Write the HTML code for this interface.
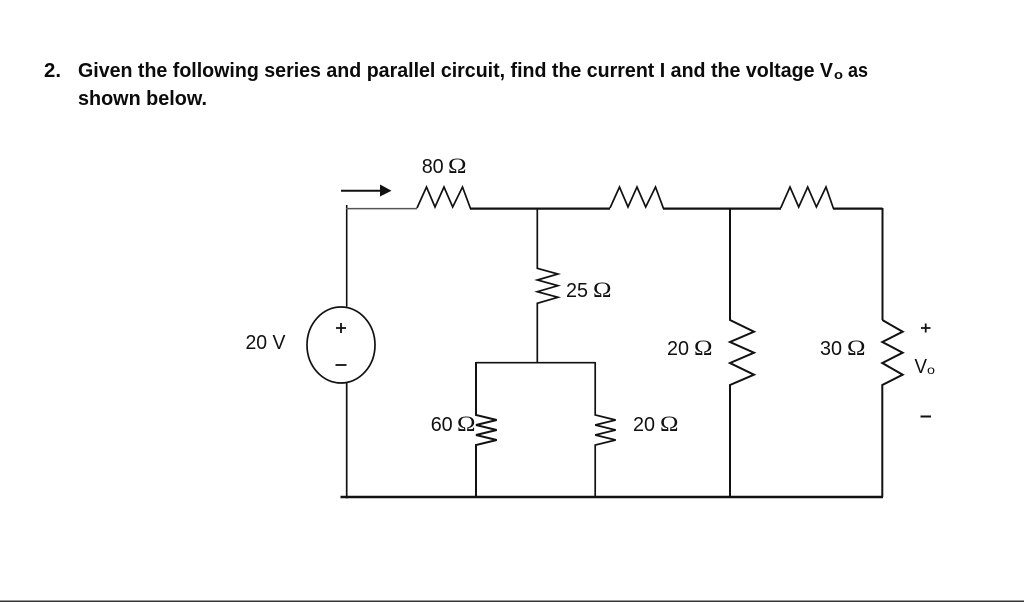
<!DOCTYPE html>
<html lang="en">
<head>
<meta charset="utf-8">
<title>Series and parallel circuit</title>
<style>
html,body{margin:0;padding:0;background:#fff;width:1024px;height:602px;overflow:hidden}
svg{display:block}
text{font-family:"Liberation Sans",sans-serif;fill:#111;font-size:20px}
.b{font-weight:bold;fill:#0b0b0b}
.s{font-family:"Liberation Serif",serif;font-size:22px}
.w{fill:none;stroke:#111;stroke-linejoin:miter}
</style>
</head>
<body>
<svg width="1024" height="602" viewBox="0 0 1024 602" xmlns="http://www.w3.org/2000/svg">
<rect width="1024" height="602" fill="#fff"/>

<!-- Question text -->
<text class="b" x="44" y="77" textLength="17" lengthAdjust="spacingAndGlyphs">2.</text>
<text class="b" x="78" y="77" textLength="755" lengthAdjust="spacingAndGlyphs">Given the following series and parallel circuit, find the current I and the voltage V</text>
<text class="b" x="834" y="79" style="font-size:13px" textLength="9" lengthAdjust="spacingAndGlyphs">o</text>
<text class="b" x="848" y="77" textLength="20" lengthAdjust="spacingAndGlyphs">as</text>
<text class="b" x="78" y="105" textLength="129" lengthAdjust="spacingAndGlyphs">shown below.</text>

<!-- Current arrow -->
<line class="w" x1="341" y1="190.7" x2="381" y2="190.7" stroke-width="2"/>
<polygon points="380,184.5 391.5,190.7 380,196.5" fill="#111"/>

<!-- Top wires -->
<path class="w" stroke-width="1.6" d="M346.7 205V306.5"/>
<path class="w" stroke-width="1.5" d="M346 208.6H417" style="stroke:#555"/>
<path class="w" stroke-width="2.2" d="M470 208.6H610M663 208.6H781M833 208.6H882.5"/>
<path class="w" stroke-width="2" d="M882.5 208V320"/>
<!-- Top resistors -->
<path class="w" stroke-width="1.7" d="M417 208L426.5 187L435 207L444 187L452.7 207L462.5 187L470.5 208.6"/>
<path class="w" stroke-width="1.7" d="M610 208L619.5 187L628 207L637 187L645.7 207L655.5 187L663.5 208.6"/>
<path class="w" stroke-width="1.7" d="M780.7 208L790 187L798.7 207L807.7 187L816.4 207L826 187L833.5 208.6"/>

<!-- 25 ohm branch -->
<path class="w" stroke-width="1.7" d="M537.3 208.6V268.3L558 274L537.3 280L558 285.7L537.3 291.7L558 297.3L537.3 303.3V363"/>

<!-- parallel bridge -->
<path class="w" stroke-width="1.7" d="M476 362.7H595.3"/>
<!-- 60 ohm -->
<path class="w" stroke-width="2" d="M476 362V415L496.7 420L476 425L496.7 430L476 435L496.7 440L476 445V497"/>
<!-- right 20 ohm -->
<path class="w" stroke-width="1.7" d="M595.2 362V415L615.7 420L595.2 425L615.7 430L595.2 435L615.7 440L595.2 445V497"/>

<!-- middle 20 ohm -->
<path class="w" stroke-width="2" d="M730 208.6V320L754 331.7L730 342L754 352.7L730 363L754 374.7L730 385V497"/>
<!-- 30 ohm -->
<path class="w" stroke-width="2" d="M882.3 320L902.7 331.7L882.3 342L902.7 352.7L882.3 363L902.7 374.7L882.3 385V497"/>

<!-- Source -->
<ellipse class="w" cx="341" cy="345" rx="34" ry="38" stroke-width="1.7"/>
<line class="w" x1="346.7" y1="383" x2="346.7" y2="498.5" stroke-width="1.7"/>
<!-- Bottom rail -->
<line class="w" x1="340.5" y1="497" x2="883" y2="497" stroke-width="2.4"/>

<!-- Source signs -->
<path class="w" stroke-width="1.8" d="M336 328H346M341 323V333"/>
<path class="w" stroke-width="1.8" d="M335.5 365H346.5"/>
<text x="245.5" y="349" textLength="40" lengthAdjust="spacingAndGlyphs">20 V</text>

<!-- Labels -->
<text x="421.7" y="173" textLength="22" lengthAdjust="spacingAndGlyphs">80</text>
<text class="s" x="448" y="173" textLength="18.5" lengthAdjust="spacingAndGlyphs">Ω</text>

<text x="566" y="297" textLength="22" lengthAdjust="spacingAndGlyphs">25</text>
<text class="s" x="593" y="297" textLength="18.5" lengthAdjust="spacingAndGlyphs">Ω</text>

<text x="430.7" y="431" textLength="22" lengthAdjust="spacingAndGlyphs">60</text>
<text class="s" x="457" y="431" textLength="18.5" lengthAdjust="spacingAndGlyphs">Ω</text>

<text x="633" y="431" textLength="22" lengthAdjust="spacingAndGlyphs">20</text>
<text class="s" x="660" y="431" textLength="18.5" lengthAdjust="spacingAndGlyphs">Ω</text>

<text x="667" y="355" textLength="22" lengthAdjust="spacingAndGlyphs">20</text>
<text class="s" x="694" y="355" textLength="18.5" lengthAdjust="spacingAndGlyphs">Ω</text>

<text x="820" y="355" textLength="22" lengthAdjust="spacingAndGlyphs">30</text>
<text class="s" x="847" y="355" textLength="18.5" lengthAdjust="spacingAndGlyphs">Ω</text>

<!-- Vo signs -->
<path class="w" stroke-width="1.8" d="M921 328H930.5M925.7 323.5V332.5"/>
<text x="914.5" y="373" textLength="12.5" lengthAdjust="spacingAndGlyphs">V</text>
<text x="927" y="374" style="font-size:12px" textLength="8" lengthAdjust="spacingAndGlyphs">o</text>
<path class="w" stroke-width="2" d="M920.5 416.5H931"/>

<!-- Bottom edge -->
<rect x="0" y="600.5" width="1024" height="1.5" fill="#333"/>
</svg>
</body>
</html>
